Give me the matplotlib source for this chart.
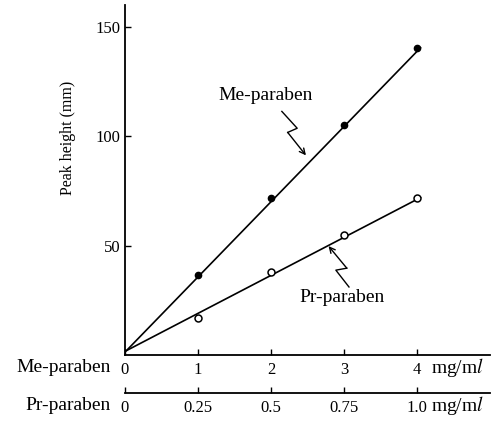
import matplotlib.pyplot as plt

plt.rcParams['font.family'] = ['Liberation Serif', 'DejaVu Serif']
plt.rcParams['mathtext.fontset'] = 'stix'

# concentrations (mg/ml) and peak heights (mm)
me_conc = [1, 2, 3, 4]
pr_conc = [0.25, 0.5, 0.75, 1.0]
me_height = [36.5, 72, 105, 140.5]
pr_height = [17, 38, 55, 72]

# drawn calibration lines (endpoints)
fit_x = [0.02, 4.05]
me_fit = [2, 140.5]
pr_fit = [2, 72]

me_ticks = [0, 1, 2, 3, 4]
me_ticklabels = ['0', '1', '2', '3', '4']
pr_ticks = [0, 0.25, 0.5, 0.75, 1.0]
pr_ticklabels = ['0', '0.25', '0.5', '0.75', '1.0']
y_ticks = [50, 100, 150]

fig = plt.figure(figsize=(4.95, 4.23), dpi=100)
ax = fig.add_axes([0.2525, 0.1608, 0.737, 0.827])

ax.plot(fit_x, me_fit, color='black', lw=1.2)
ax.plot(fit_x, pr_fit, color='black', lw=1.2)
ax.plot(me_conc, me_height, 'o', color='black', ms=4.5)
ax.plot([c * 4 for c in pr_conc], pr_height, 'o', mfc='white', mec='black', mew=1.1, ms=5)

ax.set_xlim(0, 5)
ax.set_ylim(0, 160)
ax.spines['top'].set_visible(False)
ax.spines['right'].set_visible(False)
for s in ['left', 'bottom']:
    ax.spines[s].set_linewidth(1.3)

ax.set_yticks(y_ticks)
ax.set_xticks(me_ticks)
ax.set_xticklabels(me_ticklabels)
ax.tick_params(axis='x', direction='in', length=4, width=1, labelsize=12, pad=5)
ax.tick_params(axis='y', direction='in', length=4, width=1, labelsize=12, pad=3)
ax.set_ylabel('Peak height (mm)', fontsize=11.5)
ax.yaxis.set_label_coords(-0.135, 0.62)

# Pr-paraben concentration scale below the main axis
sec = ax.secondary_xaxis(-0.109, functions=(lambda x: x / 4, lambda x: x * 4))
sec.set_xticks(pr_ticks)
sec.set_xticklabels(pr_ticklabels)
sec.tick_params(direction='in', length=4, width=1, labelsize=12, pad=5)
sec.spines['bottom'].set_linewidth(1.3)

# row labels and units
trans = ax.get_xaxis_transform()
ax.text(-0.2, -0.037, 'Me-paraben', transform=trans, ha='right', va='center', fontsize=14)
ax.text(-0.2, -0.143, 'Pr-paraben', transform=trans, ha='right', va='center', fontsize=14)
ax.text(4.2, -0.037, r'mg/m$\mathit{l}$', transform=trans, ha='left', va='center', fontsize=14)
ax.text(4.2, -0.143, r'mg/m$\mathit{l}$', transform=trans, ha='left', va='center', fontsize=14)

# series labels with zigzag pointers
ax.text(1.93, 118.5, 'Me-paraben', ha='center', va='center', fontsize=14)
ax.plot([2.15, 2.36, 2.23], [111.4, 103.7, 101.8], color='black', lw=1)
ax.annotate('', xy=(2.48, 91.3), xytext=(2.23, 101.8),
            arrowprops=dict(arrowstyle='->', lw=1, color='black', shrinkA=0, shrinkB=0))

ax.text(2.97, 26.5, 'Pr-paraben', ha='center', va='center', fontsize=14)
ax.plot([3.07, 2.89, 3.04], [31.1, 38.8, 39.7], color='black', lw=1)
ax.annotate('', xy=(2.79, 49.8), xytext=(3.04, 39.7),
            arrowprops=dict(arrowstyle='->', lw=1, color='black', shrinkA=0, shrinkB=0))

fig.savefig('out.png', dpi=100)
